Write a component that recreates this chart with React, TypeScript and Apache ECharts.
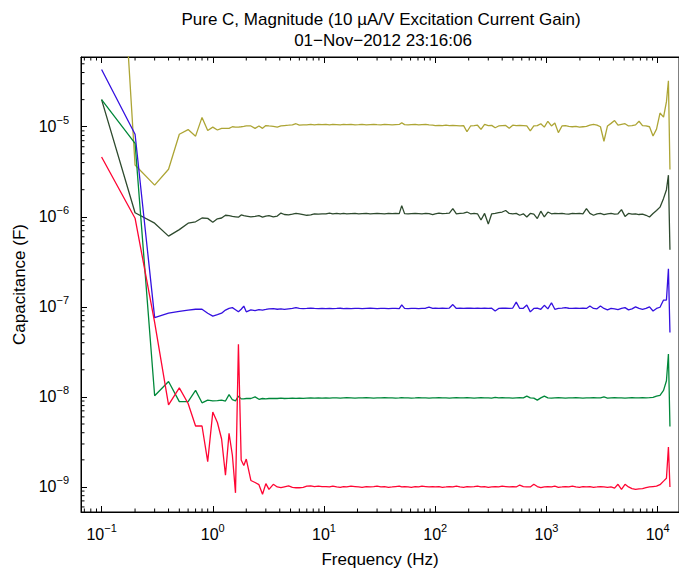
import React, { useEffect, useRef } from 'react';
import * as echarts from 'echarts';

const FONT = '"Liberation Sans", Arial, Helvetica, sans-serif';

// Frequency points (Hz)
const freqHz = [
  0.1, 0.2, 0.3, 0.4, 0.5, 0.6, 0.7, 0.8, 0.9, 1.0, 1.1, 1.2, 1.3, 1.4, 1.5, 1.6, 1.7, 1.8, 1.9, 2.0,
  2.2, 2.4, 2.6, 2.8, 3.0, 3.2, 3.5, 3.8, 4.1, 4.4, 4.8, 5.2, 5.6, 6.0, 6.5, 7.0, 7.6, 8.2, 8.9, 9.6,
  10.4, 11.2, 12, 13, 14, 15, 16, 17.5, 19, 20.5, 22, 24, 26, 28, 30, 32.5, 35, 38, 41, 44,
  47.5, 50, 53, 57, 61, 66, 71, 76, 82, 88, 95,
  100, 108, 116, 125, 134, 144, 155, 167, 180, 193, 208, 224, 240, 258, 278, 300, 322, 346, 372, 400,
  430, 463, 498, 535, 575, 620, 666, 716, 770, 828, 890, 957,
  1030, 1110, 1190, 1280, 1380, 1480, 1590, 1710, 1840, 1980, 2130, 2290, 2460, 2650, 2850, 3060, 3290, 3540, 3810, 4100,
  4400, 4730, 5090, 5470, 5880, 6330, 6800, 7310, 7860, 8450, 9090, 9770,
  10500, 11300, 12000, 12500, 12900,
];

// Series values, each in its own unit (see *Unit)
const yellowUnit = 1e-6;
const yellowVals = [
  4.5e6, 3.76, 2.25, 3.37, 8.26, 9.3, 7.86, 12.7, 9.1, 9.9, 9.2, 9.6, 9.6, 9.6, 10.0, 9.9, 9.9, 10.0, 10.1, 10.2,
  10.2, 9.6, 10.2, 9.6, 10.3, 10.2, 10.1, 9.9, 10.2, 10.3, 10.4, 10.5, 10.8, 10.4, 10.5, 10.5, 10.6, 10.5, 10.6, 10.55,
  10.6, 10.5, 10.6, 10.55, 10.5, 10.6, 10.55, 10.6, 10.5, 10.55, 10.6, 10.5, 10.55, 10.6, 10.55, 10.5, 10.6, 10.55, 10.5, 10.55,
  10.6, 11.1, 10.55, 10.5, 10.55, 10.6, 10.5, 10.55, 10.6, 10.5, 10.4,
  10.3, 10.35, 10.3, 10.4, 10.3, 10.35, 10.3, 10.25, 10.3, 8.8, 10.2, 10.3, 10.4, 9.35, 10.6, 10.3, 10.35, 9.75, 10.2, 10.3,
  10.35, 9.6, 10.4, 10.3, 10.35, 10.3, 10.2, 9.0, 10.2, 10.3, 10.8, 9.9,
  11.5, 10.2, 11.0, 8.6, 10.2, 10.3, 10.1, 10.0, 10.1, 9.9, 10.0, 10.1, 10.4, 10.6, 10.4, 10.0, 6.9, 10.2, 10.9, 11.7,
  10.4, 10.6, 10.8, 10.2, 10.3, 10.5, 11.5, 10.3, 10.2, 10.0, 7.9, 9.4,
  14.2, 12.8, 19, 32.4, 3.35,
];

const darkGreenUnit = 1e-7;
const darkGreenVals = [
  200, 11.1, 8.5, 6.1, 7.2, 8.5, 8.8, 9.7, 9.6, 8.7, 9.5, 9.7, 10.4, 10.3, 10.1, 10.0, 9.9, 10.5, 10.3, 10.2,
  10.0, 10.1, 10.3, 9.9, 10.2, 10.3, 10.0, 10.2, 11.0, 10.6, 10.5, 10.7, 10.9, 10.8, 10.6, 10.4, 10.5, 10.8, 10.7, 10.8,
  10.8, 11.0, 10.8, 10.9, 10.8, 10.9, 10.8, 10.85, 10.9, 10.8, 10.85, 10.9, 10.8, 10.85, 10.9, 10.85, 10.8, 10.9, 10.85, 10.9,
  10.85, 13.3, 10.85, 10.8, 10.85, 10.9, 10.85, 10.8, 10.9, 10.85, 10.6,
  10.8, 11.0, 10.85, 10.9, 11.0, 12.3, 10.8, 10.9, 11.0, 11.3, 10.8, 10.9, 10.8, 9.2, 10.9, 8.3, 10.8, 10.9, 11.1, 11.3,
  11.75, 10.9, 10.8, 10.9, 10.4, 10.8, 9.95, 10.9, 10.7, 9.55, 11.55, 9.95,
  11.3, 10.8, 10.9, 10.85, 10.9, 10.8, 10.7, 10.9, 10.85, 10.9, 10.8, 12.3, 10.9, 10.4, 10.8, 10.9, 10.6, 10.8, 10.9, 10.7,
  10.8, 12.0, 10.1, 10.9, 10.7, 10.8, 10.6, 10.7, 10.4, 9.95, 10.9, 11.75,
  12.8, 16.0, 20, 29, 4.3,
];

const blueUnit = 1e-8;
const blueVals = [
  4330, 826, 7.6, 8.5, 8.9, 9.2, 9.4, 9.4, 8.5, 7.9, 8.2, 8.5, 9.2, 9.6, 9.8, 9.3, 8.8, 9.4, 10.2, 8.8,
  9.25, 9.1, 9.3, 9.2, 9.35, 9.5, 9.55, 9.4, 9.5, 9.35, 9.5, 9.6, 9.8, 9.6, 9.55, 9.6, 9.7, 9.6, 9.55, 9.6,
  9.55, 9.6, 9.55, 9.6, 9.65, 9.55, 9.6, 9.55, 9.6, 9.6, 9.55, 9.6, 9.65, 9.6, 9.55, 9.6, 9.6, 9.55, 9.6, 9.6,
  9.55, 10.5, 9.6, 9.55, 9.6, 9.6, 9.55, 9.6, 9.65, 9.9, 9.6,
  9.65, 9.6, 9.65, 9.6, 9.7, 10.6, 9.6, 9.65, 9.6, 9.65, 9.7, 9.6, 9.65, 9.6, 9.7, 9.6, 9.65, 9.0, 9.6, 9.65,
  9.7, 9.6, 9.7, 11.3, 9.6, 9.65, 10.5, 8.8, 9.6, 9.7, 9.4, 10.4,
  9.5, 11.1, 9.4, 9.6, 9.7, 9.8, 9.65, 9.6, 9.7, 9.6, 9.65, 9.6, 10.2, 9.6, 9.5, 10.2, 9.6, 9.25, 9.6, 9.5,
  9.3, 9.6, 9.8, 9.25, 9.5, 10.0, 9.6, 9.4, 9.6, 10.0, 9.0, 9.6,
  9.9, 11.9, 11.9, 26.5, 5.2,
];

const greenUnit = 1e-9;
const greenVals = [
  20000, 6550, 10.3, 14.8, 8.85, 8.85, 11.8, 8.6, 9.2, 9.05, 9.1, 9.2, 9.0, 10.6, 9.3, 9.05, 10.2, 9.5, 9.5, 9.6,
  9.6, 10.0, 9.4, 9.6, 9.5, 9.6, 9.65, 9.6, 9.7, 9.6, 9.65, 9.7, 9.65, 9.7, 9.65, 9.7, 9.75, 9.7, 9.75, 9.7,
  9.75, 9.7, 9.75, 9.75, 9.7, 9.75, 9.8, 9.75, 9.7, 9.75, 9.75, 9.8, 9.75, 9.7, 9.75, 9.75, 9.8, 9.75, 9.75, 9.7,
  9.75, 9.8, 9.75, 9.75, 9.7, 9.75, 9.8, 9.75, 9.75, 9.7, 9.75,
  9.75, 9.8, 9.75, 9.75, 9.7, 9.75, 9.8, 9.75, 9.75, 9.8, 9.75, 9.7, 9.75, 9.8, 9.75, 9.75, 9.7, 9.9, 9.75, 9.8,
  9.75, 9.75, 9.7, 9.75, 9.8, 9.75, 10.2, 9.75, 9.7, 9.2, 9.75, 10.2,
  9.75, 9.7, 9.75, 9.8, 9.75, 9.7, 9.75, 9.75, 9.8, 9.75, 9.7, 9.75, 9.75, 9.8, 9.75, 9.75, 10.0, 9.7, 9.75, 9.8,
  9.75, 9.75, 9.7, 9.75, 9.8, 9.75, 9.75, 9.8, 9.75, 9.8, 9.9, 10.2,
  10.4, 11.8, 15.1, 29.9, 4.7,
];

const redUnit = 1e-10;
const redVals = [
  46100, 9640, 673, 81.4, 126, 84.5, 47.5, 47.5, 19.1, 67.8, 52, 34.1, 13.5, 39.3, 22.5, 8.6, 384, 19.9, 17.3, 20.4,
  11.8, 11.2, 10.6, 8.3, 10.9, 9.4, 10.7, 10.0, 9.8, 10.0, 10.25, 9.9, 9.8, 9.8, 9.9, 10.2, 10.3, 10.1, 10.2, 10.1,
  10.1, 10.0, 10.2, 10.0, 9.9, 10.1, 10.0, 10.2, 10.1, 10.0, 9.9, 10.1, 10.0, 10.1, 10.2, 10.0, 10.1, 9.9, 10.0, 10.1,
  10.2, 10.0, 10.1, 10.0, 9.9, 10.1, 10.0, 10.2, 10.1, 10.0, 10.1,
  10.0, 10.1, 9.9, 10.0, 10.1, 10.0, 10.2, 10.0, 9.9, 10.1, 10.0, 10.1, 10.2, 10.0, 10.1, 9.9, 10.0, 10.1, 10.0, 10.2,
  10.1, 10.0, 10.1, 10.0, 10.5, 10.1, 10.0, 10.0, 10.7, 10.1, 9.8, 10.0,
  10.1, 10.0, 10.2, 9.9, 10.0, 10.1, 10.0, 10.2, 10.0, 9.9, 10.1, 10.0, 10.1, 9.9, 10.0, 10.1, 10.0, 9.9, 10.0, 9.7,
  10.7, 9.4, 10.7, 10.0, 9.6, 9.4, 9.5, 9.6, 9.8, 10.0, 10.1, 10.2,
  10.6, 11.6, 12.5, 27.7, 10.0,
];

const titleLines = ['Pure C, Magnitude (10 \u00B5A/V Excitation Current Gain)', '01\u2212Nov\u22122012 23:16:06'];
const xName = 'Frequency (Hz)';
const yName = 'Capacitance (F)';

const X_MIN = 0.0653;
const X_MAX = 15560;
const Y_MIN = 5.27e-10;
const Y_MAX = 5.95e-5;

function minorTicks(lo: number, hi: number): number[] {
  const out: number[] = [];
  for (let d = -12; d <= 6; d++) {
    for (let m = 2; m <= 9; m++) {
      const v = m * Math.pow(10, d);
      if (v > lo && v < hi) out.push(v);
    }
  }
  return out;
}

function pairs(vals: number[], unit: number) {
  return freqHz.map((f, i) => [f, vals[i] * unit]);
}

const tickFmt = (v: number) => {
  const l = Math.log10(v);
  const r = Math.round(l);
  if (Math.abs(l - r) > 1e-6) return '';
  return `{b|10}{s|${r < 0 ? '\u2212' : ''}${Math.abs(r)}}`;
};

const rich = {
  b: { fontSize: 16, lineHeight: 24, fontFamily: FONT, color: '#000' },
  s: { fontSize: 11, lineHeight: 10, verticalAlign: 'top', fontFamily: FONT, color: '#000' },
};

export default function App() {
  const ref = useRef<HTMLDivElement>(null);
  useEffect(() => {
    if (!ref.current) return;
    const chart = echarts.init(ref.current, undefined, { renderer: 'svg' });
    const tickStyle = { stroke: '#000', lineWidth: 1 };
    const mk = (name: string, vals: number[], unit: number, color: string) => ({
      name,
      type: 'line',
      data: pairs(vals, unit),
      showSymbol: false,
      symbol: 'none',
      clip: true,
      lineStyle: { color, width: 1.3 },
      itemStyle: { color },
      z: 3,
    });
    const option: any = {
      animation: false,
      backgroundColor: '#fff',
      textStyle: { fontFamily: FONT },
      grid: { left: 81, top: 57, width: 599, height: 468, show: true, borderColor: '#000', borderWidth: 1, backgroundColor: 'transparent' },
      graphic: [
        { type: 'text', x: 381, y: 19, style: { text: titleLines[0], font: `17px ${FONT}`, fill: '#000', align: 'center', verticalAlign: 'middle' } },
        { type: 'text', x: 383, y: 40, style: { text: titleLines[1], font: `17px ${FONT}`, fill: '#000', align: 'center', verticalAlign: 'middle' } },
      ],
      xAxis: [
        {
          type: 'log', logBase: 10, min: X_MIN, max: X_MAX, position: 'bottom', gridIndex: 0,
          name: xName, nameLocation: 'middle', nameGap: 39,
          nameTextStyle: { fontSize: 17, color: '#000', fontFamily: FONT },
          axisLine: { show: true, lineStyle: { color: '#000', width: 1 } },
          axisTick: { show: true, inside: true, length: 6, lineStyle: { color: '#000', width: 1 } },
          axisLabel: { formatter: tickFmt, rich, margin: 10, color: '#000', showMinLabel: false, showMaxLabel: false },
          splitLine: { show: false },
        },
        {
          type: 'log', logBase: 10, min: X_MIN, max: X_MAX, position: 'top', gridIndex: 0,
          axisLine: { show: true, lineStyle: { color: '#000', width: 1 } },
          axisTick: { show: true, inside: true, length: 6, lineStyle: { color: '#000', width: 1 } },
          axisLabel: { show: false },
          splitLine: { show: false },
        },
      ],
      yAxis: [
        {
          type: 'log', logBase: 10, min: Y_MIN, max: Y_MAX, position: 'left', gridIndex: 0,
          name: yName, nameLocation: 'middle', nameGap: 52, nameRotate: 90,
          nameTextStyle: { fontSize: 17, color: '#000', fontFamily: FONT },
          axisLine: { show: true, lineStyle: { color: '#000', width: 1 } },
          axisTick: { show: true, inside: true, length: 6, lineStyle: { color: '#000', width: 1 } },
          axisLabel: { formatter: tickFmt, rich, margin: 12, color: '#000', showMinLabel: false, showMaxLabel: false },
          splitLine: { show: false },
        },
      ],
      series: [
        mk('10 µF range', yellowVals, yellowUnit, '#ada535'),
        mk('1 µF range', darkGreenVals, darkGreenUnit, '#2e4a2e'),
        mk('100 nF range', blueVals, blueUnit, '#3410e0'),
        mk('10 nF range', greenVals, greenUnit, '#00883a'),
        mk('1 nF range', redVals, redUnit, '#ff0533'),
        {
          type: 'custom', name: 'xMinor', silent: true, z: 5, xAxisIndex: 0, yAxisIndex: 0,
          data: minorTicks(X_MIN, X_MAX).map((v) => [v, Y_MIN]),
          renderItem: (_p: any, api: any) => {
            const x = api.value(0);
            const b = api.coord([x, Y_MIN]);
            const t = api.coord([x, Y_MAX]);
            return {
              type: 'group',
              children: [
                { type: 'line', shape: { x1: b[0], y1: b[1], x2: b[0], y2: b[1] - 3.5 }, style: tickStyle },
                { type: 'line', shape: { x1: t[0], y1: t[1], x2: t[0], y2: t[1] + 3.5 }, style: tickStyle },
              ],
            };
          },
        },
        {
          type: 'custom', name: 'yMinor', silent: true, z: 5, xAxisIndex: 0, yAxisIndex: 0,
          data: minorTicks(Y_MIN, Y_MAX).map((v) => [X_MIN, v]),
          renderItem: (_p: any, api: any) => {
            const y = api.value(1);
            const l = api.coord([X_MIN, y]);
            return { type: 'line', shape: { x1: l[0], y1: l[1], x2: l[0] + 3.5, y2: l[1] }, style: tickStyle };
          },
        },
      ],
    };
    chart.setOption(option);
    return () => chart.dispose();
  }, []);
  return <div ref={ref} style={{ position: 'absolute', left: 0, top: 0, width: 679, height: 573, background: '#fff' }} />;
}
